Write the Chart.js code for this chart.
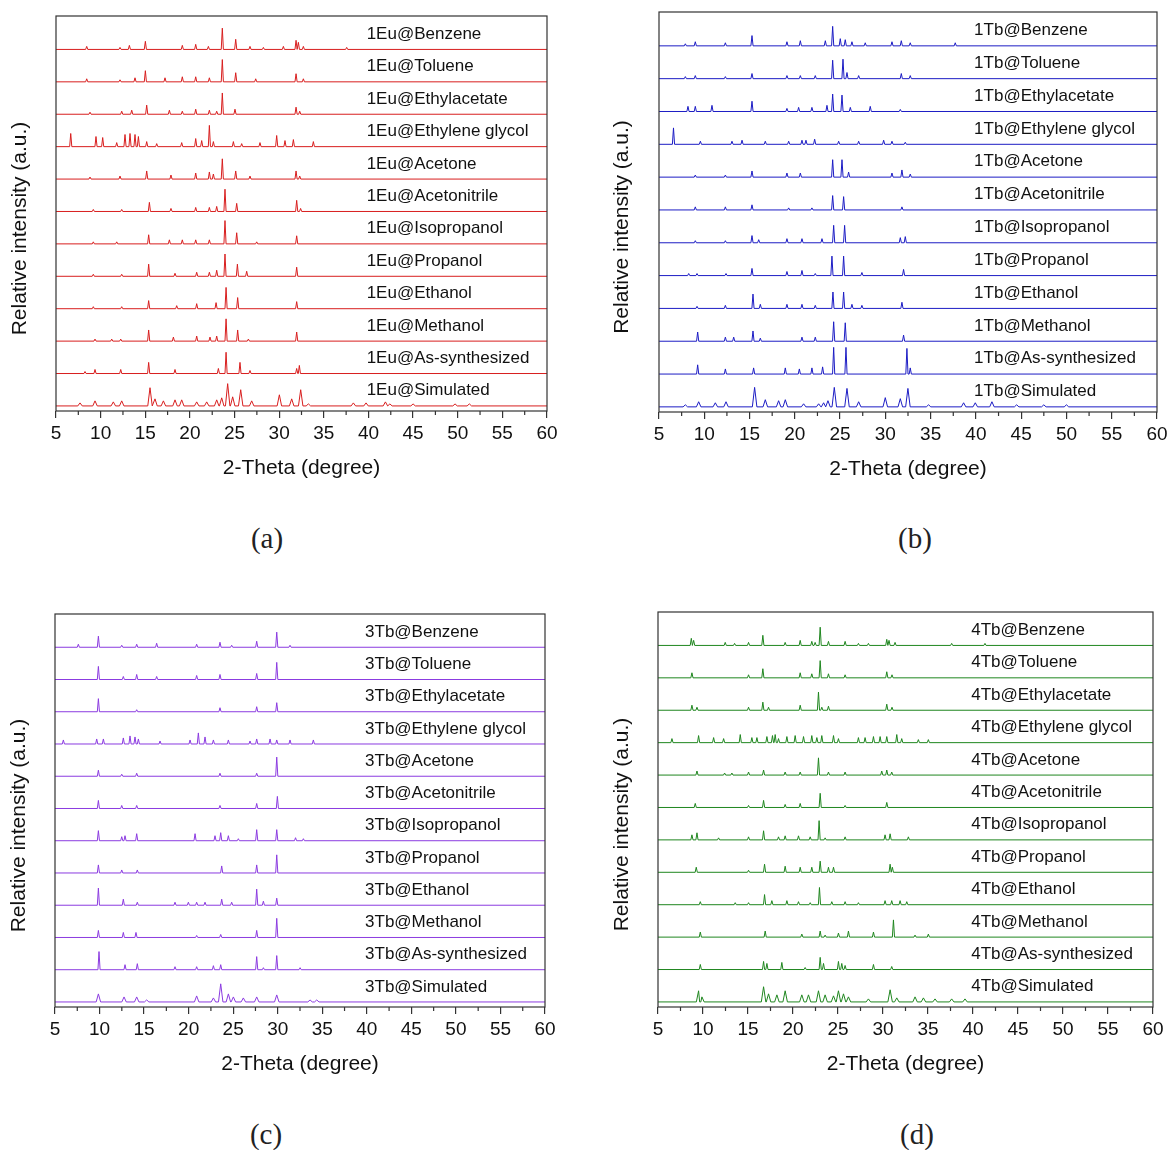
<!DOCTYPE html>
<html>
<head>
<meta charset="utf-8">
<script src="https://cdn.jsdelivr.net/npm/chart.js@4.4.0/dist/chart.umd.min.js"></script>
<style>
  html, body { margin: 0; padding: 0; background: #fff; }
  #figure { position: relative; width: 1172px; height: 1150px; }
  .panel { position: absolute; }
  .caption {
    position: absolute;
    font-family: "Liberation Serif", "Times New Roman", serif;
    font-size: 29px;
    color: #222;
    transform: translate(-50%, -50%);
  }
</style>
</head>
<body>
<div id="figure">
  <div class="panel" style="left:0;top:0"><canvas id="chartA" width="586" height="500"></canvas></div>
  <div class="panel" style="left:600px;top:0"><canvas id="chartB" width="572" height="500"></canvas></div>
  <div class="panel" style="left:0;top:600px"><canvas id="chartC" width="586" height="500"></canvas></div>
  <div class="panel" style="left:600px;top:600px"><canvas id="chartD" width="572" height="500"></canvas></div>
  <div class="caption" style="left:267px;top:538px">(a)</div>
  <div class="caption" style="left:915px;top:538px">(b)</div>
  <div class="caption" style="left:266px;top:1134px">(c)</div>
  <div class="caption" style="left:917px;top:1134px">(d)</div>
</div>
<script>
// traces listed top to bottom
const solvents = ["Benzene", "Toluene", "Ethylacetate", "Ethylene glycol", "Acetone", "Acetonitrile",
  "Isopropanol", "Propanol", "Ethanol", "Methanol", "As-synthesized", "Simulated"];
const xTicks = [5, 10, 15, 20, 25, 30, 35, 40, 45, 50, 55, 60];
const minorTicks = [7.5, 12.5, 17.5, 22.5, 27.5, 32.5, 37.5, 42.5, 47.5, 52.5, 57.5];

// peaks per trace: [2-theta, intensity]
const peaks1Eu = [
  [[8.44,3],[12.17,2],[13.22,4],[15.01,8],[19.15,4],[20.65,5],[22.07,3],[23.63,21],[25.13,10],[26.73,3],[28.23,2],[30.47,3],[31.89,9],[32.15,7],[32.71,3],[37.56,2]],
  [[8.44,3],[12.17,2],[13.85,4],[15.01,11],[17.21,4],[19.15,5],[20.65,5],[22.18,4],[23.63,22],[25.13,9],[27.37,3],[31.89,8],[32.71,3]],
  [[8.81,2],[12.36,3],[13.48,4],[15.16,9],[17.7,4],[19.15,3],[20.65,5],[22.18,4],[23.0,3],[23.63,21],[25.05,5],[31.89,7],[32.3,3]],
  [[6.65,13],[9.48,10],[10.23,9],[11.8,4],[12.73,12],[13.29,13],[13.85,12],[14.23,10],[15.16,5],[16.28,3],[19.08,4],[20.65,8],[21.32,6],[22.18,21],[22.63,5],[24.87,5],[25.8,3],[27.85,4],[29.72,11],[30.65,6],[31.59,7],[33.83,5]],
  [[8.81,2],[12.17,3],[15.16,8],[17.88,4],[20.65,6],[22.18,7],[22.63,5],[23.63,20],[25.13,8],[26.73,3],[31.89,8],[32.3,3]],
  [[9.18,2],[12.36,2],[15.46,9],[17.88,3],[20.65,4],[22.18,4],[23.0,5],[23.93,22],[25.24,8],[31.96,11],[32.4,3]],
  [[9.18,2],[11.8,2],[15.38,9],[17.7,4],[19.15,4],[20.65,4],[22.18,4],[23.93,23],[25.24,11],[27.48,2],[31.96,8]],
  [[9.18,2],[12.36,2],[15.38,12],[18.33,3],[20.76,4],[22.18,4],[23.0,6],[23.93,22],[25.32,12],[26.36,5],[31.96,9]],
  [[9.18,2],[12.36,2],[15.38,8],[18.52,3],[20.76,5],[22.93,6],[24.05,21],[25.35,11],[31.96,7]],
  [[9.37,2],[11.24,2],[12.25,2],[15.38,11],[18.15,4],[20.76,5],[22.25,4],[23.0,5],[24.05,22],[25.35,11],[26.55,2],[31.96,9]],
  [[8.25,2],[9.37,4],[12.25,4],[15.38,11],[18.33,4],[23.19,5],[24.05,21],[25.61,11],[26.73,3],[31.96,5],[32.26,8]],
  [[7.69,3],[9.37,5],[11.42,4],[12.36,5],[15.53,18],[16.09,7],[17.03,5],[18.33,6],[19.08,6],[20.76,4],[21.88,4],[23.0,6],[23.56,8],[24.23,22],[24.79,9],[25.69,16],[26.92,5],[30.02,11],[31.4,7],[32.41,16],[33.27,2],[38.31,3],[39.73,3],[41.9,4],[42.4,2],[45.0,2],[49.7,2],[51.3,2]]
];

const peaks1Tb = [
  [[7.91,2],[9.01,4],[12.33,3],[15.27,10],[19.13,4],[20.61,5],[23.37,5],[24.18,19],[25.02,7],[25.57,6],[26.31,4],[27.78,3],[30.73,4],[31.76,5],[32.75,3],[37.72,3]],
  [[7.91,2],[9.01,3],[12.33,2],[15.27,5],[19.13,3],[20.61,3],[22.26,3],[24.18,18],[25.32,19],[25.76,6],[27.05,3],[31.76,5],[32.75,3]],
  [[8.2,5],[9.01,5],[10.85,6],[15.27,10],[19.13,3],[20.42,4],[21.89,4],[23.55,6],[24.18,17],[25.21,16],[26.13,4],[28.33,5],[31.65,2]],
  [[6.6,16],[9.57,3],[13.06,3],[14.17,4],[16.74,3],[19.32,3],[20.79,4],[21.23,4],[22.19,5],[24.84,3],[27.05,3],[29.81,4],[30.73,3],[32.2,2]],
  [[9.01,2],[12.33,2],[15.27,6],[19.13,4],[20.61,4],[24.18,17],[25.21,17],[25.94,5],[30.73,4],[31.83,7],[32.75,3]],
  [[9.01,3],[12.33,3],[15.27,5],[19.32,2],[21.89,2],[24.18,14],[25.39,13],[31.83,3]],
  [[9.01,2],[12.33,2],[15.27,7],[16.01,3],[19.13,4],[20.79,4],[23.0,4],[24.29,17],[25.5,17],[31.65,5],[32.2,6]],
  [[8.28,2],[9.2,2],[12.4,2],[15.27,7],[19.13,4],[20.79,5],[22.26,2],[24.1,19],[25.39,19],[27.41,3],[32.01,6]],
  [[9.2,2],[12.33,3],[15.38,14],[16.19,4],[19.13,4],[20.79,4],[22.26,3],[24.21,16],[25.39,16],[26.31,4],[27.41,3],[31.83,6]],
  [[9.27,9],[12.33,4],[13.25,4],[15.38,10],[16.19,3],[20.79,4],[22.26,4],[24.29,19],[25.57,18],[32.01,6]],
  [[9.27,9],[12.33,5],[15.45,6],[18.95,6],[20.5,5],[21.89,6],[23.07,7],[24.29,26],[25.65,26],[32.38,25],[32.75,6]],
  [[7.91,2],[9.38,5],[11.22,4],[12.4,5],[15.56,19],[16.74,7],[18.21,6],[18.95,7],[20.97,3],[22.63,3],[23.18,4],[23.66,6],[24.36,19],[25.76,18],[27.05,5],[29.99,9],[31.65,8],[32.49,18],[34.77,2],[38.64,4],[39.93,4],[41.77,5],[44.5,2],[47.5,2],[50.0,2]]
];

const peaks3Tb = [
  [[7.62,3],[9.87,11],[12.49,2],[14.17,3],[16.41,4],[20.9,3],[23.52,5],[24.83,2],[27.64,6],[29.89,15],[31.38,2]],
  [[9.87,13],[12.67,3],[14.17,5],[16.41,3],[20.9,4],[23.52,5],[27.64,6],[29.89,17]],
  [[9.87,13],[14.17,2],[23.52,4],[27.64,5],[29.89,9]],
  [[5.94,4],[9.68,5],[10.43,5],[12.67,6],[13.42,8],[13.98,7],[14.36,5],[16.79,3],[20.16,4],[21.09,11],[21.84,7],[22.78,4],[24.46,4],[26.89,3],[27.64,5],[29.14,5],[29.89,4],[31.38,4],[34.0,4]],
  [[9.87,6],[12.49,2],[14.17,3],[23.52,3],[27.64,3],[29.89,19]],
  [[9.87,8],[12.49,3],[14.17,3],[23.52,3],[27.64,5],[29.96,12]],
  [[9.87,10],[12.49,4],[12.86,5],[14.17,7],[20.72,7],[22.96,5],[23.6,8],[24.46,5],[25.58,2],[27.64,11],[29.89,11],[32.0,3],[32.88,2]],
  [[9.87,8],[12.49,3],[14.24,3],[23.71,7],[27.64,8],[29.89,18]],
  [[9.87,17],[12.67,6],[14.24,3],[18.47,3],[19.97,3],[20.9,3],[21.84,3],[23.71,6],[24.83,3],[27.64,16],[28.39,4],[29.89,7]],
  [[9.87,7],[12.67,5],[14.09,5],[20.9,2],[23.6,3],[27.64,7],[29.89,19]],
  [[9.94,18],[12.86,5],[14.24,6],[18.47,3],[20.9,3],[22.78,4],[23.6,5],[27.64,13],[28.39,2],[29.89,14],[32.51,2]],
  [[9.87,8],[12.75,5],[14.17,5],[15.29,2],[20.9,6],[22.78,4],[23.6,18],[24.46,8],[25.02,5],[26.14,4],[27.64,5],[29.89,7],[33.63,2],[34.38,2]]
];

const peaks4Tb = [
  [[8.7,7],[8.96,5],[12.47,3],[13.51,2],[15.06,3],[16.65,10],[19.13,3],[20.8,5],[22.09,4],[22.46,3],[23.02,18],[23.94,4],[25.79,4],[27.27,2],[28.38,2],[30.42,6],[30.67,5],[31.34,3],[37.63,2],[41.33,2]],
  [[8.77,5],[15.06,3],[16.65,9],[20.8,5],[22.09,4],[23.02,17],[23.94,4],[25.79,3],[30.42,6],[31.0,3]],
  [[8.77,5],[9.33,3],[15.06,3],[16.65,8],[17.28,3],[20.8,5],[22.83,18],[23.2,3],[23.94,4],[30.42,6],[31.0,3]],
  [[6.55,4],[9.51,7],[11.18,5],[12.29,4],[14.14,8],[15.43,5],[15.99,5],[17.1,6],[17.72,7],[18.02,8],[18.39,4],[19.32,6],[20.24,7],[21.17,6],[22.09,7],[22.65,5],[23.2,7],[24.5,7],[25.05,4],[27.27,5],[28.01,5],[28.94,6],[29.68,6],[30.42,6],[31.53,8],[32.08,4],[33.93,3],[35.04,3]],
  [[9.33,4],[12.4,2],[13.21,2],[15.06,3],[16.73,5],[19.13,3],[20.8,3],[22.83,17],[23.94,3],[25.79,3],[29.86,4],[30.42,5],[30.97,3]],
  [[9.14,4],[15.06,2],[16.73,7],[19.13,3],[20.8,4],[23.02,14],[25.79,2],[30.42,5]],
  [[8.77,5],[9.33,7],[11.73,2],[15.06,3],[16.73,9],[18.39,3],[19.13,4],[20.61,4],[21.91,3],[22.9,19],[23.57,2],[25.79,3],[30.23,5],[30.79,6],[32.82,3]],
  [[9.25,5],[15.06,2],[16.84,8],[19.13,6],[20.8,5],[22.09,5],[23.02,11],[23.94,5],[24.5,5],[30.79,8],[31.04,5]],
  [[9.7,3],[13.58,2],[15.06,2],[16.84,10],[17.65,4],[19.32,4],[20.61,3],[21.91,2],[22.94,17],[24.31,3],[25.79,3],[27.27,2],[30.23,4],[30.97,4],[31.9,4],[32.64,3]],
  [[9.7,5],[16.91,6],[20.98,3],[23.02,6],[23.57,2],[25.05,4],[26.16,6],[28.94,5],[31.16,17],[33.56,2],[35.04,3]],
  [[9.7,5],[16.73,8],[17.1,6],[18.76,7],[21.35,2],[23.02,12],[23.39,6],[25.05,8],[25.42,6],[25.79,4],[28.94,5],[30.97,3]],
  [[9.51,11],[9.88,5],[16.73,15],[17.28,8],[18.21,7],[19.13,11],[20.98,7],[21.72,7],[22.83,11],[23.57,7],[24.5,6],[25.05,11],[25.61,8],[26.16,5],[28.38,3],[30.79,12],[31.53,4],[33.56,5],[34.49,4],[35.78,3],[37.63,3],[39.11,3]]
];

const SPACING = 32;
const FONT = "'Liberation Sans', Arial, sans-serif";

function buildTrace(peaks, offset, halfWidth) {
  const pts = [{ x: 5, y: offset }, { x: 60, y: offset }];
  peaks.forEach(([pos, h]) => {
    pts.push({ x: pos - halfWidth, y: offset }, { x: pos, y: offset + h }, { x: pos + halfWidth, y: offset });
  });
  return pts.sort((a, b) => a.x - b.x);
}

const framePlugin = {
  id: "frame",
  afterDraw(chart, args, opts) {
    const { ctx, chartArea: a, scales } = chart;
    ctx.save();
    ctx.strokeStyle = "#333";
    ctx.lineWidth = 1.2;
    ctx.strokeRect(a.left, a.top, a.right - a.left, a.bottom - a.top);
    ctx.beginPath();
    minorTicks.forEach((v) => {
      const px = scales.x.getPixelForValue(v);
      ctx.moveTo(px, a.bottom);
      ctx.lineTo(px, a.bottom + 4);
    });
    ctx.stroke();
    // y axis title
    ctx.translate(opts.titleX, (a.top + a.bottom) / 2 + 15);
    ctx.rotate(-Math.PI / 2);
    ctx.fillStyle = "#111";
    ctx.font = `21px ${FONT}`;
    ctx.textAlign = "center";
    ctx.textBaseline = "middle";
    ctx.fillText("Relative intensity (a.u.)", 0, 0);
    ctx.restore();
  },
};

const traceLabels = {
  id: "traceLabels",
  afterDatasetsDraw(chart) {
    const { ctx, scales } = chart;
    ctx.save();
    ctx.fillStyle = "#111";
    ctx.font = `17px ${FONT}`;
    ctx.textBaseline = "middle";
    chart.data.datasets.forEach((ds, k) => {
      const offset = (solvents.length - 1 - k) * SPACING;
      ctx.fillText(ds.label, scales.x.getPixelForValue(39.8), scales.y.getPixelForValue(offset + 15));
    });
    ctx.restore();
  },
};

function makeChart(id, peaks, prefix, color, L) {
  const datasets = solvents.map((name, k) => ({
    label: `${prefix}@${name}`,
    data: buildTrace(peaks[k], (solvents.length - 1 - k) * SPACING, k === solvents.length - 1 ? 0.25 : 0.12),
    borderColor: color,
    borderWidth: 1,
    pointRadius: 0,
    tension: 0,
    fill: false,
  }));

  return new Chart(document.getElementById(id), {
    type: "line",
    data: { datasets },
    options: {
      responsive: false,
      devicePixelRatio: 1,
      animation: false,
      layout: { padding: { left: 0, top: L.top, right: L.right, bottom: L.bottom } },
      plugins: {
        legend: { display: false },
        tooltip: { enabled: false },
        frame: { titleX: L.titleX },
      },
      scales: {
        x: {
          type: "linear",
          min: 5,
          max: 60,
          afterBuildTicks: (s) => { s.ticks = xTicks.map((v) => ({ value: v })); },
          ticks: { color: "#111", font: { family: FONT, size: 19 }, padding: 4, maxRotation: 0, autoSkip: false },
          grid: { display: true, drawOnChartArea: false, drawTicks: true, tickLength: 7, color: "#333", lineWidth: 1.2 },
          border: { display: false },
          title: { display: true, text: "2-Theta (degree)", color: "#111", font: { family: FONT, size: 21 }, padding: 0 },
          afterFit: (s) => { s.height = 70; s.paddingLeft = 0; s.paddingRight = 0; },
        },
        y: {
          type: "linear",
          min: -5,
          max: 385,
          ticks: { display: false },
          grid: { display: false },
          border: { display: false },
          afterFit: (s) => { s.width = L.yWidth; },
        },
      },
    },
    plugins: [framePlugin, traceLabels],
  });
}

makeChart("chartA", peaks1Eu, "1Eu", "#d81e1e", { yWidth: 56, top: 16, right: 39, bottom: 19, titleX: 20 });
makeChart("chartB", peaks1Tb, "1Tb", "#1c1cc4", { yWidth: 59, top: 12, right: 15, bottom: 18, titleX: 22 });
makeChart("chartC", peaks3Tb, "3Tb", "#8b3be0", { yWidth: 55, top: 14, right: 41, bottom: 23, titleX: 19 });
makeChart("chartD", peaks4Tb, "4Tb", "#1f861f", { yWidth: 58, top: 12, right: 19, bottom: 23, titleX: 22 });
</script>
</body>
</html>
